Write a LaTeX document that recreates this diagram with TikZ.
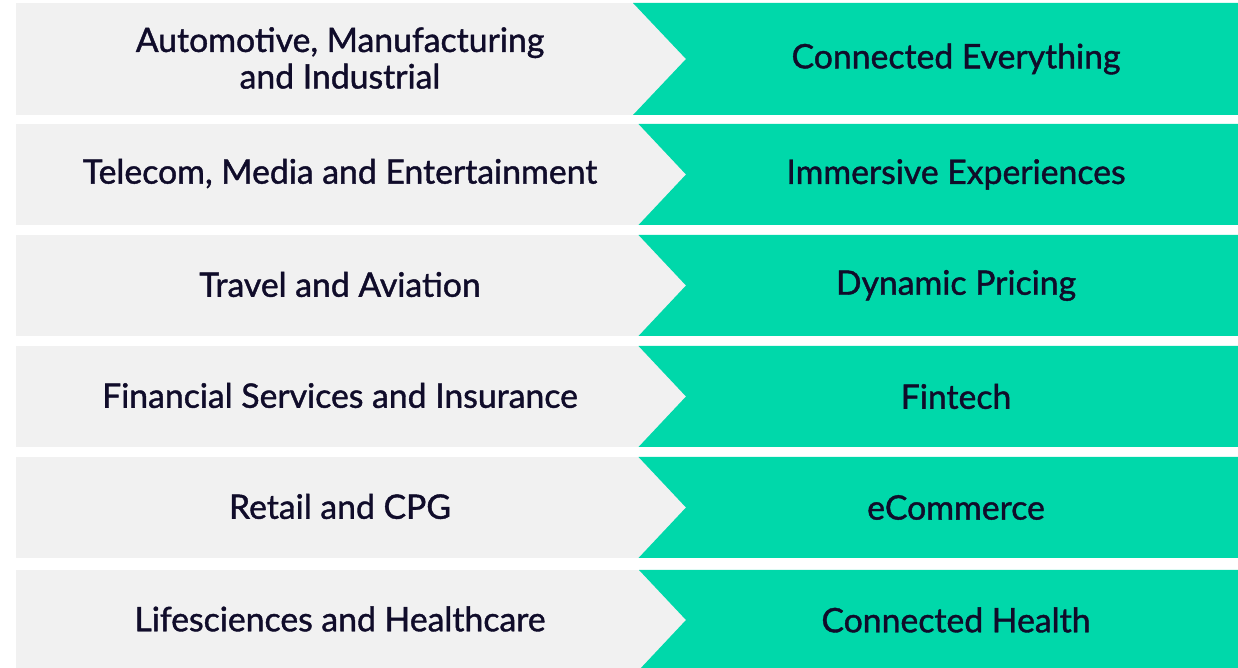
\documentclass[tikz,border=0pt]{standalone}
\usepackage{fontspec}
\setmainfont{Lato}
\newfontfamily\labelfont{Lato}[FakeBold=1.2]
\definecolor{SectorGrey}{RGB}{241,241,241}
\definecolor{UseCaseGreen}{RGB}{0,216,170}
\definecolor{LabelNavy}{RGB}{16,12,42}
\usetikzlibrary{calc}

\begin{document}
\begin{tikzpicture}[x=0.025cm, y=-0.025cm,
    label text/.style = {text = LabelNavy, font = \labelfont\fontsize{24}{26}\selectfont, align = center}]

\useasboundingbox (0, 0) rectangle (1238, 668);

% top, bottom, sector, use case
\foreach \top/\bot/\sector/\usecase [count = \i] in {
    3/115/{Automotive, Manufacturing\\and Industrial}/Connected Everything,
    124/225/{Telecom, Media and Entertainment}/Immersive Experiences,
    235/336/{Travel and Aviation}/Dynamic Pricing,
    346/447/{Financial Services and Insurance}/Fintech,
    457/558/{Retail and CPG}/eCommerce,
    570/670/{Lifesciences and Healthcare}/Connected Health}
{
    \coordinate (top-\i) at (16, \top);
    \coordinate (bot-\i) at (700, \bot);
    \coordinate (tip-\i) at (686, {(\top + \bot) / 2});
    \fill[SectorGrey] (top-\i) rectangle (bot-\i);
    \fill[UseCaseGreen]
        ($(tip-\i) + ({-(\bot - \top) / 2 + 3}, {-(\bot - \top) / 2})$)
        -- (1238, \top) -- (1238, \bot)
        -- ($(tip-\i) + ({-(\bot - \top) / 2 + 3}, {(\bot - \top) / 2})$)
        -- (tip-\i) -- cycle;
    \node[label text] (sector-\i) at (340, {(\top + \bot) / 2 - 1}) {\sector};
    \node[label text] (usecase-\i) at (956, {(\top + \bot) / 2}) {\usecase};
}

\end{tikzpicture}
\end{document}
